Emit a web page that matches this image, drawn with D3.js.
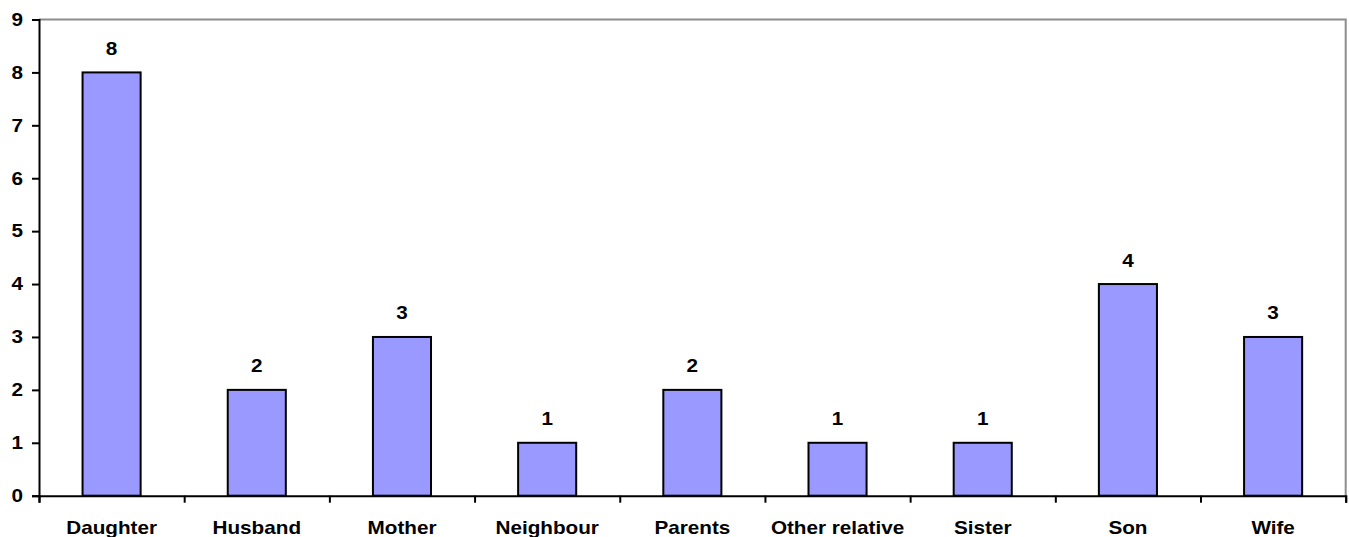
<!DOCTYPE html>
<html><head><meta charset="utf-8">
<script src="https://cdn.jsdelivr.net/npm/d3@7"></script>
<style>
html,body{margin:0;padding:0;background:#fff;}
svg{display:block;}
text{font-family:"Liberation Sans",Arial,sans-serif;font-weight:bold;}
</style></head>
<body>
<svg id="c" width="1349" height="537"></svg>
<script>
const categories = ["Daughter","Husband","Mother","Neighbour","Parents","Other relative","Sister","Son","Wife"];
const values = [8,2,3,1,2,1,1,4,3];
const yTicks = [0,1,2,3,4,5,6,7,8,9];

(function () {
const plotLeft = 39, plotRight = 1345.7, plotTop = 19.5, plotBottom = 495.7;
const SX = 1.15; // horizontal text stretch
const fs = 18;

const svg = d3.select("#c");
const x = d3.scaleBand().domain(categories).range([plotLeft, plotRight]).padding(0);
const y = d3.scaleLinear().domain([0, 9]).range([plotBottom, plotTop]);
const bw = x.bandwidth() * 0.4;

// plot border (top & right gray)
svg.append("path")
  .attr("d", `M${plotLeft},${plotTop}H${plotRight}V${plotBottom}`)
  .attr("fill", "none").attr("stroke", "#8c8c8c").attr("stroke-width", 2);

// bars
svg.selectAll("rect.bar").data(categories).join("rect")
  .attr("class", "bar")
  .attr("x", (d) => x(d) + (x.bandwidth() - bw) / 2)
  .attr("width", bw)
  .attr("y", (d, i) => y(values[i]))
  .attr("height", (d, i) => y(0) - y(values[i]))
  .attr("fill", "#9999ff").attr("stroke", "#000").attr("stroke-width", 2);

// value labels
svg.selectAll("text.val").data(categories).join("text")
  .attr("class", "val")
  .attr("transform", (d, i) => `translate(${x(d) + x.bandwidth() / 2},${y(values[i]) - 17.5}) scale(${SX},1)`)
  .attr("text-anchor", "middle").attr("font-size", fs).attr("fill", "#000")
  .text((d, i) => values[i]);

// y axis
const gy = svg.append("g").attr("transform", `translate(${plotLeft},0)`)
  .call(d3.axisLeft(y).tickValues(yTicks).tickSize(7).tickPadding(9).tickFormat(d3.format("d")));
gy.select(".domain").attr("stroke", "#000").attr("stroke-width", 2);
gy.selectAll(".tick line").attr("stroke", "#000").attr("stroke-width", 2);
gy.selectAll(".tick text")
  .attr("font-size", fs).attr("font-family", "Liberation Sans, Arial, sans-serif").attr("font-weight", "bold")
  .attr("fill", "#000").attr("x", -16 / SX).attr("transform", `scale(${SX},1)`);

// x axis tick marks at band boundaries
const xb = d3.scaleLinear().domain([0, categories.length]).range([plotLeft, plotRight]);
const gxt = svg.append("g").attr("transform", `translate(0,${plotBottom})`)
  .call(d3.axisBottom(xb).tickValues(d3.range(categories.length + 1)).tickSize(7).tickFormat(""));
gxt.select(".domain").attr("stroke", "#000").attr("stroke-width", 2);
gxt.selectAll(".tick line").attr("stroke", "#000").attr("stroke-width", 2);

// x labels
const gx = svg.append("g").attr("transform", `translate(0,${plotBottom})`)
  .call(d3.axisBottom(x).tickSize(0).tickPadding(0));
gx.select(".domain").remove();
gx.selectAll(".tick text")
  .attr("font-size", fs).attr("font-family", "Liberation Sans, Arial, sans-serif").attr("font-weight", "bold")
  .attr("fill", "#000").attr("y", 38.5).attr("dy", 0)
  .attr("transform", `scale(${SX},1)`);
})();
</script>
</body></html>
